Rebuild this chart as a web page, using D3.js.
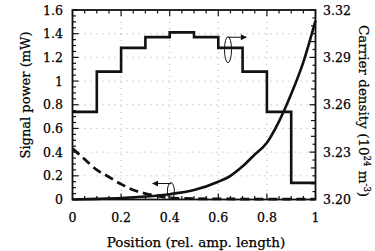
<!DOCTYPE html>
<html><head><meta charset="utf-8">
<script src="https://cdn.jsdelivr.net/npm/d3@7"></script>
<style>
body{margin:0;background:#fff;}
svg text{font-family:"DejaVu Serif",serif;fill:#000;stroke:#000;stroke-width:0.25px;}
</style></head>
<body><svg id="c" width="375" height="251"></svg>
<script>
// Carrier density steps (right axis, 10^24 m^-3), one per 0.1 segment
const segStarts = [0,0.1,0.2,0.3,0.4,0.5,0.6,0.7,0.8,0.9];
const carrier = [3.2555,3.281,3.296,3.3028,3.3058,3.3028,3.296,3.281,3.2555,3.2105];
// Signal power forward (solid) and backward (dashed), left axis mW
const posSolid = [0,0.1,0.2,0.3,0.4,0.5,0.6,0.65,0.7,0.75,0.8,0.85,0.9,0.95,1.0];
const powSolid = [0.0,0.005,0.012,0.025,0.045,0.08,0.15,0.2,0.28,0.38,0.48,0.66,0.89,1.16,1.51];
const posDash = [0,0.05,0.1,0.15,0.2,0.25,0.3,0.35,0.4,0.5,0.6,0.7,0.8,0.9,1.0];
const powDash = [0.43,0.34,0.25,0.19,0.13,0.08,0.05,0.03,0.015,0.007,0.005,0.004,0.004,0.004,0.004];
const xTicks = [0,0.2,0.4,0.6,0.8,1];
const yTicks = [0,0.2,0.4,0.6,0.8,1,1.2,1.4,1.6];
const yTickLabels = ["0","0.2","0.4","0.6","0.8","1","1.2","1.4","1.6"];
const rTicks = [3.20,3.23,3.26,3.29,3.32];

const svg = d3.select("#c");
const L=72.5,R=315.5,T=10,B=199.5;
const x = d3.scaleLinear().domain([0,1]).range([L,R]);
const y = d3.scaleLinear().domain([0,1.6]).range([B,T]);
const yr = d3.scaleLinear().domain([3.20,3.32]).range([B,T]);

// grid
const g = svg.append("g").attr("stroke","#999").attr("stroke-width",0.8).attr("stroke-dasharray","1,5");
xTicks.slice(1,-1).forEach(v=>g.append("line").attr("x1",x(v)).attr("x2",x(v)).attr("y1",T).attr("y2",B));
yTicks.slice(1,-1).forEach(v=>g.append("line").attr("y1",y(v)).attr("y2",y(v)).attr("x1",L).attr("x2",R));

// ticks
const tk = svg.append("g").attr("stroke","#111").attr("stroke-width",1.2);
d3.range(0,1.0001,0.05).forEach(v=>{
  const big = Math.abs(v*5-Math.round(v*5))<1e-6;
  const len = big?6:3.5;
  tk.append("line").attr("x1",x(v)).attr("x2",x(v)).attr("y1",B).attr("y2",B-len);
  tk.append("line").attr("x1",x(v)).attr("x2",x(v)).attr("y1",T).attr("y2",T+len);
});
d3.range(0,1.6001,0.05).forEach(v=>{
  const big = Math.abs(v*5-Math.round(v*5))<1e-6;
  const len = big?6:3.5;
  tk.append("line").attr("x1",L).attr("x2",L+len).attr("y1",y(v)).attr("y2",y(v));
});
d3.range(3.20,3.32001,0.005).forEach(v=>{
  const q = (v-3.2)/0.005;
  const big = Math.abs(q/6-Math.round(q/6))<1e-4;
  const mid = Math.abs(q/2-Math.round(q/2))<1e-4;
  const len = big?6:(mid?4.5:3);
  tk.append("line").attr("x1",R).attr("x2",R-len).attr("y1",yr(v)).attr("y2",yr(v));
});

// frame
svg.append("rect").attr("x",L).attr("y",T).attr("width",R-L).attr("height",B-T)
  .attr("fill","none").attr("stroke","#111").attr("stroke-width",1.8);

// tick labels
const fs = 12.5;
svg.append("g").selectAll("text").data(xTicks).join("text")
  .attr("x",d=>x(d)).attr("y",222).attr("text-anchor","middle").attr("font-size",fs).text(d=>d3.format("")(d));
svg.append("g").selectAll("text").data(yTicks).join("text")
  .attr("x",63).attr("y",d=>y(d)+4.5).attr("text-anchor","end").attr("font-size",fs).text((d,i)=>yTickLabels[i]);
svg.append("g").selectAll("text").data(rTicks).join("text")
  .attr("x",323).attr("y",d=>yr(d)+4.5).attr("text-anchor","start").attr("font-size",fs).text(d=>d.toFixed(2));

// axis titles
svg.append("text").attr("x",(L+R)/2+2).attr("y",247).attr("text-anchor","middle").attr("font-size",13.5)
  .text("Position (rel. amp. length)");
svg.append("text").attr("transform",`translate(30,95) rotate(-90)`).attr("text-anchor","middle").attr("font-size",13)
  .text("Signal power (mW)");
const rt = svg.append("text").attr("transform",`translate(359,111) rotate(90)`).attr("text-anchor","middle").attr("font-size",13.5);
rt.append("tspan").text("Carrier density (10");
rt.append("tspan").attr("font-size",8.5).attr("dy",-5).text("24");
rt.append("tspan").attr("dy",5).text(" m");
rt.append("tspan").attr("font-size",8.5).attr("dy",-5).text("-3");
rt.append("tspan").attr("dy",5).text(")");

// data lines
const stepData = segStarts.map((s,i)=>({x:s,v:carrier[i]}));
stepData.push({x:1,v:carrier[carrier.length-1]});
svg.append("path").datum(stepData)
  .attr("d",d3.line().x(d=>x(d.x)).y(d=>yr(d.v)).curve(d3.curveStepAfter))
  .attr("fill","none").attr("stroke","#111").attr("stroke-width",2.6);

svg.append("path").datum(posSolid.map((p,i)=>[p,powSolid[i]]))
  .attr("d",d3.line().x(d=>x(d[0])).y(d=>y(d[1])).curve(d3.curveMonotoneX))
  .attr("fill","none").attr("stroke","#111").attr("stroke-width",2.6);

svg.append("path").datum(posDash.map((p,i)=>[p,powDash[i]]))
  .attr("d",d3.line().x(d=>x(d[0])).y(d=>y(d[1])).curve(d3.curveMonotoneX))
  .attr("fill","none").attr("stroke","#111").attr("stroke-width",2.8).attr("stroke-dasharray","9,5");

// annotations
const defs = svg.append("defs");
defs.append("marker").attr("id","ah").attr("viewBox","0 0 10 10").attr("refX",9).attr("refY",5)
  .attr("markerWidth",8).attr("markerHeight",6).attr("markerUnits","userSpaceOnUse").attr("orient","auto")
  .append("path").attr("d","M0,0L10,5L0,10z").attr("fill","#111");
// top ellipse -> right
svg.append("ellipse").attr("cx",x(0.64)).attr("cy",y(1.265)).attr("rx",3.5).attr("ry",13)
  .attr("fill","none").attr("stroke","#111").attr("stroke-width",1);
svg.append("line").attr("x1",x(0.64)).attr("x2",x(0.715)).attr("y1",y(1.37)).attr("y2",y(1.37))
  .attr("stroke","#111").attr("stroke-width",1).attr("marker-end","url(#ah)");
// bottom ellipse -> left
svg.append("ellipse").attr("cx",x(0.405)).attr("cy",y(0.07)).attr("rx",3.5).attr("ry",8.5)
  .attr("fill","none").attr("stroke","#111").attr("stroke-width",1);
svg.append("line").attr("x1",x(0.405)).attr("x2",x(0.33)).attr("y1",y(0.135)).attr("y2",y(0.135))
  .attr("stroke","#111").attr("stroke-width",1).attr("marker-end","url(#ah)");
</script></body></html>
